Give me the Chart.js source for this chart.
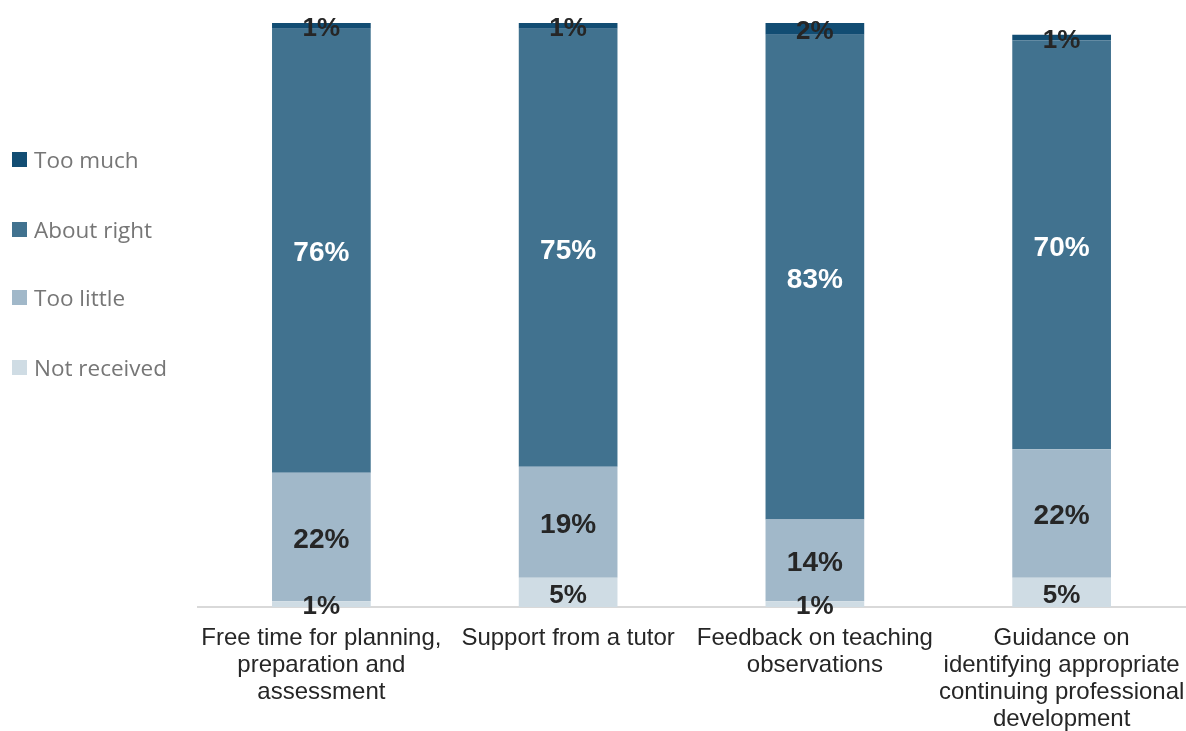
<!DOCTYPE html>
<html>
<head>
<meta charset="utf-8">
<script src="https://cdn.jsdelivr.net/npm/chart.js@4.4.1/dist/chart.umd.min.js"></script>
<style>
  html, body { margin: 0; padding: 0; background: #ffffff; }
  #wrap { position: relative; width: 1186px; height: 731px; }
  #c { position: absolute; left: 0; top: 0; }
  #legend { position: absolute; left: 12px; top: 0; font-family: "Open Sans", "Noto Sans", sans-serif; font-size: 22.5px; color: #767676; }
  .li { position: absolute; left: 0; white-space: nowrap; display: flex; align-items: center; }
  .sw { width: 15px; height: 15px; margin-right: 7px; }
</style>
</head>
<body>
<div id="wrap">
  <canvas id="c" width="1186" height="731"></canvas>
  <div id="legend"></div>
</div>
<script>
const categories = [
  ["Free time for planning,", "preparation and", "assessment"],
  ["Support from a tutor"],
  ["Feedback on teaching", "observations"],
  ["Guidance on", "identifying appropriate", "continuing professional", "development"]
];
const notReceived = [1, 5, 1, 5];
const tooLittle   = [22, 19, 14, 22];
const aboutRight  = [76, 75, 83, 70];
const tooMuch     = [1, 1, 2, 1];
const seriesNames = ["Not received", "Too little", "About right", "Too much"];
const seriesColors = ["#cfdce4", "#a1b8c9", "#41728f", "#124d73"];
const labelColors = ["#262626", "#262626", "#ffffff", "#262626"];

const seriesValues = [notReceived, tooLittle, aboutRight, tooMuch];

const datasets = seriesValues.map((vals, i) => ({
  label: seriesNames[i],
  data: vals,
  backgroundColor: seriesColors[i],
  borderWidth: 0,
  barPercentage: 0.4,
  categoryPercentage: 1.0
}));

const valueLabels = {
  id: 'valueLabels',
  afterDatasetsDraw(chart) {
    const ctx = chart.ctx;
    ctx.save();
    ctx.textAlign = 'center';
    ctx.textBaseline = 'middle';
    chart.data.datasets.forEach((ds, di) => {
      const meta = chart.getDatasetMeta(di);
      meta.data.forEach((el, i) => {
        const v = ds.data[i];
        if (!v) return;
        const big = v >= 10;
        ctx.font = 'bold ' + (big ? 28 : 26) + 'px "Liberation Sans", Arial, sans-serif';
        ctx.fillStyle = labelColors[di];
        const y = (el.y + el.base) / 2 + 3;
        ctx.fillText(v + '%', el.x, y);
      });
    });
    ctx.restore();
  }
};

const chart = new Chart(document.getElementById('c'), {
  type: 'bar',
  data: { labels: categories, datasets: datasets },
  options: {
    responsive: false,
    animation: false,
    layout: { padding: { left: 198, right: 1, top: 23, bottom: 0 } },
    plugins: {
      legend: { display: false },
      tooltip: { enabled: false }
    },
    scales: {
      x: {
        stacked: true,
        grid: { display: false },
        border: { display: true, color: '#d9d9d9', width: 2 },
        afterFit(scale) {
          scale.height = 124;
          scale.paddingLeft = 0;
          scale.paddingRight = 0;
        },
        ticks: {
          color: '#262626',
          font: { family: '"Liberation Sans", Arial, sans-serif', size: 24, lineHeight: 1.125 },
          padding: 10,
          maxRotation: 0,
          autoSkip: false
        }
      },
      y: {
        stacked: true,
        display: false,
        min: 0,
        max: 100
      }
    }
  },
  plugins: [valueLabels]
});

// Legend built from the chart's datasets (top-to-bottom: reverse stack order)
const legendEl = document.getElementById('legend');
const legendY = [160, 230, 298, 368];
chart.data.datasets.slice().reverse().forEach((ds, k) => {
  const item = document.createElement('div');
  item.className = 'li';
  item.style.top = (legendY[k] - 16) + 'px';
  const sw = document.createElement('span');
  sw.className = 'sw';
  sw.style.background = ds.backgroundColor;
  const tx = document.createElement('span');
  tx.textContent = ds.label;
  item.appendChild(sw);
  item.appendChild(tx);
  legendEl.appendChild(item);
});
</script>
</body>
</html>
